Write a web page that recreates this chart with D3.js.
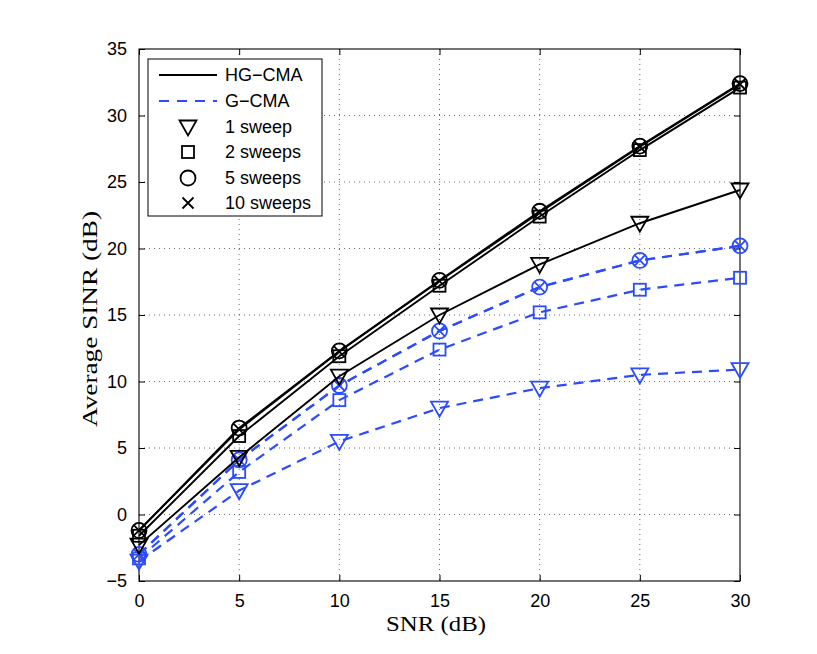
<!DOCTYPE html>
<html><head><meta charset="utf-8">
<script src="https://cdn.jsdelivr.net/npm/d3@7"></script>
<style>body{margin:0;background:#fff}svg{display:block}</style>
</head><body>
<svg id="c" width="817" height="654"></svg>
<script>
const snr = [0,5,10,15,20,25,30];
const hg1 = [-2.3, 4.3, 10.4, 15.0, 18.8, 21.9, 24.4];
const hg2 = [-1.6, 5.9, 11.9, 17.2, 22.4, 27.4, 32.1];
const hg5 = [-1.2, 6.5, 12.3, 17.6, 22.8, 27.7, 32.4];
const hg10 = [-1.2, 6.4, 12.25, 17.55, 22.7, 27.65, 32.35];
const g1 = [-3.5, 1.8, 5.5, 8.0, 9.5, 10.5, 10.9];
const g2 = [-3.3, 3.2, 8.6, 12.4, 15.2, 16.9, 17.8];
const g5 = [-3.0, 4.1, 9.7, 13.8, 17.1, 19.1, 20.2];
const g10 = [-3.0, 4.1, 9.7, 13.8, 17.1, 19.1, 20.2];
const xTicks = [0,5,10,15,20,25,30];
const yTicks = [-5,0,5,10,15,20,25,30,35];
const legendLabels = ["HG\u2212CMA","G\u2212CMA","1 sweep","2 sweeps","5 sweeps","10 sweeps"];

const BLUE = "#2a4bff";
const L = 139, R = 740, T = 49, B = 581;
const svg = d3.select("#c");
svg.append("rect").attr("width",817).attr("height",654).attr("fill","#fff");
const x = d3.scaleLinear().domain([0,30]).range([L,R]);
const y = d3.scaleLinear().domain([-5,35]).range([B,T]);

// grid
const grid = svg.append("g").attr("stroke","#444").attr("stroke-width",0.8).attr("stroke-dasharray","1,4");
grid.selectAll(".gx").data(xTicks.slice(1,-1)).join("line")
  .attr("x1",d=>x(d)).attr("x2",d=>x(d)).attr("y1",T).attr("y2",B);
grid.selectAll(".gy").data(yTicks.slice(1,-1)).join("line")
  .attr("y1",d=>y(d)).attr("y2",d=>y(d)).attr("x1",L).attr("x2",R);

// axes
const fmt = d => d < 0 ? "\u2212" + Math.abs(d) : String(d);
const ax = svg.append("g").attr("transform",`translate(0,${B})`)
  .call(d3.axisBottom(x).tickValues(xTicks).tickSizeInner(-6).tickSizeOuter(0).tickPadding(13).tickFormat(fmt));
const axT = svg.append("g").attr("transform",`translate(0,${T})`)
  .call(d3.axisTop(x).tickValues(xTicks).tickSizeInner(-6).tickSizeOuter(0).tickFormat(""));
const ay = svg.append("g").attr("transform",`translate(${L},0)`)
  .call(d3.axisLeft(y).tickValues(yTicks).tickSizeInner(-6).tickSizeOuter(0).tickPadding(12).tickFormat(fmt));
const ayR = svg.append("g").attr("transform",`translate(${R},0)`)
  .call(d3.axisRight(y).tickValues(yTicks).tickSizeInner(-6).tickSizeOuter(0).tickFormat(""));
[ax,axT,ay,ayR].forEach(g=>{
  g.select(".domain").remove();
  g.selectAll("line").attr("stroke","#000").attr("stroke-width",1);
  g.selectAll("text").attr("font-family","Liberation Sans, Arial, sans-serif").attr("font-size",18).attr("fill","#000");
});
svg.append("rect").attr("x",L).attr("y",T).attr("width",R-L).attr("height",B-T)
  .attr("fill","none").attr("stroke","#000").attr("stroke-width",1.1);

// axis labels
svg.append("text").attr("x",436).attr("y",631).attr("text-anchor","middle")
  .attr("font-family","Liberation Serif, Times New Roman, serif").attr("font-size",21)
  .attr("textLength",100).attr("lengthAdjust","spacingAndGlyphs").text("SNR (dB)");
svg.append("text").attr("transform",`translate(97,319) rotate(-90)`).attr("text-anchor","middle")
  .attr("font-family","Liberation Serif, Times New Roman, serif").attr("font-size",21)
  .attr("textLength",216).attr("lengthAdjust","spacingAndGlyphs").text("Average SINR (dB)");

// markers
function marker(g, type, cx, cy, color){
  if(type==="tri"){
    g.append("path").attr("d",`M${cx-8.5},${cy-6.5}L${cx+8.5},${cy-6.5}L${cx},${cy+8.5}Z`)
      .attr("fill","none").attr("stroke",color).attr("stroke-width",1.8);
  } else if(type==="sq"){
    g.append("rect").attr("x",cx-6).attr("y",cy-6).attr("width",12).attr("height",12)
      .attr("fill","none").attr("stroke",color).attr("stroke-width",1.8);
  } else if(type==="circ"){
    g.append("circle").attr("cx",cx).attr("cy",cy).attr("r",7.5)
      .attr("fill","none").attr("stroke",color).attr("stroke-width",1.8);
  } else {
    g.append("path").attr("d",`M${cx-5.5},${cy-5.5}L${cx+5.5},${cy+5.5}M${cx-5.5},${cy+5.5}L${cx+5.5},${cy-5.5}`)
      .attr("fill","none").attr("stroke",color).attr("stroke-width",1.8);
  }
}

const series = [
  {v:g1,c:BLUE,dash:true,m:"tri"},
  {v:g2,c:BLUE,dash:true,m:"sq"},
  {v:g5,c:BLUE,dash:true,m:"circ"},
  {v:g10,c:BLUE,dash:true,m:"x"},
  {v:hg1,c:"#000",dash:false,m:"tri"},
  {v:hg2,c:"#000",dash:false,m:"sq"},
  {v:hg5,c:"#000",dash:false,m:"circ"},
  {v:hg10,c:"#000",dash:false,m:"x"}
];
const line = d3.line().x((d,i)=>x(snr[i])).y(d=>y(d));
const plot = svg.append("g");
series.forEach(s=>{
  plot.append("path").attr("d",line(s.v)).attr("fill","none").attr("stroke",s.c)
    .attr("stroke-width",s.dash?2.2:1.9).attr("stroke-dasharray",s.dash?"10,7":null);
  s.v.forEach((v,i)=>marker(plot,s.m,x(snr[i]),y(v),s.c));
});

// legend
const lg = svg.append("g");
lg.append("rect").attr("x",148).attr("y",59).attr("width",174).attr("height",157)
  .attr("fill","#fff").attr("stroke","#000").attr("stroke-width",1);
const rowY = [75,101,127,152,178,203];
lg.append("line").attr("x1",159).attr("x2",217).attr("y1",rowY[0]).attr("y2",rowY[0]).attr("stroke","#000").attr("stroke-width",1.9);
lg.append("line").attr("x1",159).attr("x2",217).attr("y1",rowY[1]).attr("y2",rowY[1]).attr("stroke",BLUE).attr("stroke-width",2.2).attr("stroke-dasharray","10,8");
["tri","sq","circ","x"].forEach((m,i)=>marker(lg,m,188,rowY[i+2],"#000"));
legendLabels.forEach((t,i)=>{
  lg.append("text").attr("x",225).attr("y",rowY[i]).attr("dy","0.35em")
    .attr("font-family","Liberation Sans, Arial, sans-serif").attr("font-size",18).text(t);
});
</script>
</body></html>
